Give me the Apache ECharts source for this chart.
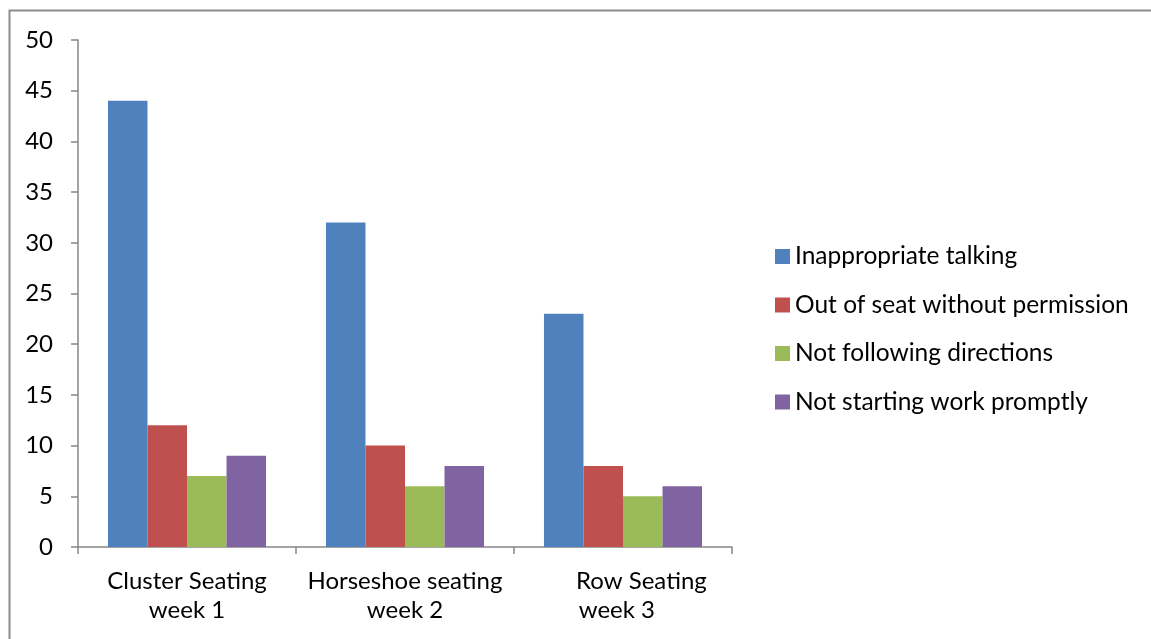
<!DOCTYPE html>
<html>
<head>
<meta charset="utf-8">
<script src="https://cdn.jsdelivr.net/npm/echarts@6/dist/echarts.min.js"></script>
<style>
html,body{margin:0;padding:0;background:#fff;}
#c{width:1151px;height:639px;}
</style>
</head>
<body>
<div id="c"></div>
<script>
const categories = ['Cluster Seating\nweek 1', 'Horseshoe seating\nweek 2', '      Row Seating\nweek 3  '];
const seriesNames = ['Inappropriate talking', 'Out of seat without permission', 'Not following directions', 'Not starting work promptly'];
const inappropriateTalking = [44, 32, 23];
const outOfSeat = [12, 10, 8];
const notFollowing = [7, 6, 5];
const notStarting = [9, 8, 6];
const colors = ['#4F81BD', '#C0504D', '#9BBB59', '#8064A2'];
const yTicks = [0, 5, 10, 15, 20, 25, 30, 35, 40, 45, 50];

const FONT = 'Lato, "Open Sans", sans-serif';
const chart = echarts.init(document.getElementById('c'), null, {renderer: 'canvas'});
const values = [inappropriateTalking, outOfSeat, notFollowing, notStarting];
chart.setOption({
  animation: false,
  backgroundColor: '#fff',
  color: colors,
  graphic: [{
    type: 'rect', shape: {x: 9.5, y: 10.5, width: 1300, height: 800},
    style: {fill: 'none', stroke: '#8c8c8c', lineWidth: 2}, silent: true, z: -1
  }],
  grid: {left: 78, right: 419, top: 40, bottom: 92, containLabel: false},
  legend: {
    orient: 'vertical', left: 775, top: 244, itemGap: 23.5, padding: 0,
    itemWidth: 15, itemHeight: 15, icon: 'rect',
    textStyle: {fontFamily: FONT, fontSize: 24.5, lineHeight: 25, color: '#000'},
    data: seriesNames
  },
  xAxis: {
    type: 'category', data: categories,
    axisLine: {lineStyle: {color: '#868686', width: 1.5}},
    axisTick: {show: true, length: 7, alignWithLabel: false, lineStyle: {color: '#868686', width: 1.5}},
    axisLabel: {fontFamily: FONT, fontSize: 24, color: '#000', margin: 20, lineHeight: 29, interval: 0}
  },
  yAxis: {
    type: 'value', min: 0, max: 50, interval: 5,
    splitLine: {show: false},
    axisLine: {show: true, lineStyle: {color: '#868686', width: 1.5}},
    axisTick: {show: true, length: 7, lineStyle: {color: '#868686', width: 1.5}},
    axisLabel: {fontFamily: FONT, fontSize: 24, color: '#000', margin: 25,
      formatter: v => yTicks.includes(v) ? String(v) : ''}
  },
  series: seriesNames.map((n, i) => ({
    name: n, type: 'bar', data: values[i],
    barGap: '0%', barCategoryGap: '27.5%'
  }))
});
</script>
</body>
</html>
